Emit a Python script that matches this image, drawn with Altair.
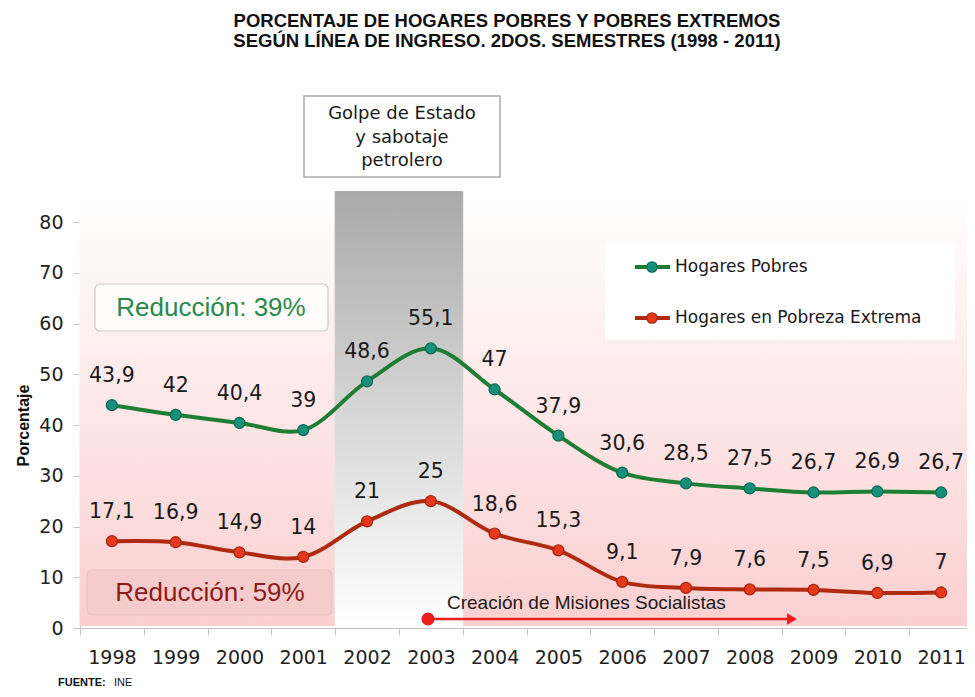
import altair as alt
import pandas as pd

# ---------------- data ----------------
years = list(range(1998, 2012))
pobres = [43.9, 42, 40.4, 39, 48.6, 55.1, 47, 37.9, 30.6, 28.5, 27.5, 26.7, 26.9, 26.7]
extrema = [17.1, 16.9, 14.9, 14, 21, 25, 18.6, 15.3, 9.1, 7.9, 7.6, 7.5, 6.9, 7]
series_names = ["Hogares Pobres", "Hogares en Pobreza Extrema"]
crisis_years = [2002, 2003]
y_ticks = [0, 10, 20, 30, 40, 50, 60, 70, 80]

title_lines = ["PORCENTAJE DE HOGARES POBRES Y POBRES EXTREMOS",
               "SEGÚN LÍNEA DE INGRESO. 2DOS. SEMESTRES (1998 - 2011)"]
golpe_text = ["Golpe de Estado", "y sabotaje", "petrolero"]
red_pobres = "Reducción: 39%"
red_extrema = "Reducción: 59%"
misiones = "Creación de Misiones Socialistas"

rows = []
for name, vals in zip(series_names, [pobres, extrema]):
    for yr, v in zip(years, vals):
        rows.append({"year": yr, "value": v, "series": name,
                     "label": f"{v:g}".replace(".", ",")})
df = pd.DataFrame(rows)
bg_pink = pd.DataFrame({"year": [y for y in years if y not in crisis_years]})
bg_grey = pd.DataFrame({"year": crisis_years})
one = pd.DataFrame({"k": [0]})

# ---------------- styles ----------------
line_colors = ["#1e7f34", "#b02a10"]
pt_fill = ["#16907a", "#e8381c"]
pt_stroke = ["#0e6b58", "#a8260f"]
TICK = "#222222"
AX = "#c4c4c4"

xscale = alt.Scale(domain=years, paddingInner=0, paddingOuter=0)
yscale = alt.Scale(domain=[0, 80])
xaxis = alt.Axis(title=None, labelAngle=0, tickBand="extent", domainColor=AX,
                 tickColor=AX, tickSize=7, labelFont="DejaVu Sans", labelFontSize=19,
                 labelColor=TICK, labelPadding=13, grid=False)
yaxis = alt.Axis(title="Porcentaje", values=y_ticks, domainColor=AX, tickColor=AX,
                 tickSize=7, labelFont="DejaVu Sans", labelFontSize=19, labelColor=TICK,
                 labelPadding=10, grid=False, titleFont="Liberation Sans",
                 titleFontSize=16, titleFontWeight="bold", titleColor="#111",
                 titlePadding=7)

X = alt.X("year:O", scale=xscale, axis=xaxis)

pink_grad = {"gradient": "linear", "x1": 0, "y1": 0, "x2": 0, "y2": 1,
             "stops": [{"offset": 0, "color": "#ffffff"},
                       {"offset": 1, "color": "#fbcfd0"}]}
grey_grad = {"gradient": "linear", "x1": 0, "y1": 0, "x2": 0, "y2": 1,
             "stops": [{"offset": 0, "color": "#a9a9a9"},
                       {"offset": 0.5, "color": "#d6d6d6"},
                       {"offset": 1, "color": "#ffffff"}]}

bg1 = alt.Chart(bg_pink).mark_rect(fill=pink_grad, stroke=pink_grad, strokeWidth=1).encode(
    x=X, y=alt.Y(datum=86, scale=yscale, axis=yaxis), y2=alt.Y2(datum=0.5))
bg2 = alt.Chart(bg_grey).mark_rect(fill=grey_grad, stroke=grey_grad, strokeWidth=1).encode(
    x=X, y=alt.Y(datum=86, scale=yscale, axis=yaxis), y2=alt.Y2(datum=0.0))

Y = alt.Y("value:Q", scale=yscale, axis=yaxis)
cscale = alt.Scale(domain=series_names, range=line_colors)

lines = alt.Chart(df).mark_line(interpolate="catmull-rom", strokeWidth=4).encode(
    x=X, y=Y, color=alt.Color("series:N", scale=cscale, legend=None))
points = alt.Chart(df).mark_circle(size=120, opacity=1, strokeWidth=1.3).encode(
    x=X, y=Y,
    fill=alt.Fill("series:N", scale=alt.Scale(domain=series_names, range=pt_fill), legend=None),
    stroke=alt.Stroke("series:N", scale=alt.Scale(domain=series_names, range=pt_stroke), legend=None))
labels = alt.Chart(df).mark_text(font="DejaVu Sans", fontSize=20.5, color="#1a1a1a",
                                 dy=-29, baseline="middle").encode(
    x=X, y=Y, text="label:N")

# ---------------- annotations (pixel layout) ----------------
def box(x1, y1, x2, y2, fill, stroke, sw=1.2, cr=0):
    return alt.Chart(one).mark_rect(fill=fill, stroke=stroke, strokeWidth=sw,
                                    cornerRadius=cr).encode(
        x=alt.value(x1), x2=alt.value(x2), y=alt.value(y1), y2=alt.value(y2))

def txt(s, x, y, size, color="#222", font="DejaVu Sans", weight="normal",
        align="center", lh=None):
    kw = dict(text=s, font=font, fontSize=size, color=color, fontWeight=weight,
              align=align, baseline="middle")
    if lh:
        kw["lineHeight"] = lh
    return alt.Chart(one).mark_text(**kw).encode(x=alt.value(x), y=alt.value(y))

title1 = txt(title_lines[0], 427, -201, 18.5, "#111", "Liberation Sans", "bold")
title2 = txt(title_lines[1], 427, -181, 18.5, "#111", "Liberation Sans", "bold")

golpe_box = box(224, -126, 420, -45, "#ffffff", "#aaaaaa", 1.5)
golpe_t = txt(golpe_text, 322, -108, 18, "#1a1a1a", lh=23.5)

r39_box = box(15, 62, 248, 109, "rgba(255,255,255,0.75)", "#cccccc", 1.2, 5)
r39_t = txt(red_pobres, 131, 86, 26, "#2a8a4c", "Liberation Sans")
r59_box = box(7, 348, 252, 393, "#f6cbcc", "#e8c4c4", 1.2, 5)
r59_t = txt(red_extrema, 130, 371, 26, "#8a1c1c", "Liberation Sans")

leg_box = box(525, 21, 875, 118, "#ffffff", "#ffffff", 0)
leg_items = []
for i, (name, lc, pf, ps) in enumerate(zip(series_names, line_colors, pt_fill, pt_stroke)):
    yy = 45 + i * 51
    leg_items.append(alt.Chart(one).mark_rule(color=lc, strokeWidth=4).encode(
        x=alt.value(555), x2=alt.value(590), y=alt.value(yy)))
    leg_items.append(alt.Chart(one).mark_circle(size=110, opacity=1, fill=pf, stroke=ps,
                                                strokeWidth=1.2).encode(
        x=alt.value(572), y=alt.value(yy)))
    leg_items.append(txt(name, 595, yy, 17, "#1a1a1a", align="left"))

mis_line = alt.Chart(one).mark_rule(color="#e8201c", strokeWidth=2.5).encode(
    x=alt.value(348), x2=alt.value(710), y=alt.value(397))
mis_dot = alt.Chart(one).mark_circle(size=170, opacity=1, color="#ee1c1c").encode(
    x=alt.value(348), y=alt.value(397))
mis_arrow = alt.Chart(one).mark_point(shape="triangle-right", filled=True, size=130,
                                      color="#ee1c1c", opacity=1).encode(
    x=alt.value(712), y=alt.value(397))
mis_t = txt(misiones, 367, 381, 19, "#1a1a1a", "Liberation Sans", align="left")

fuente1 = txt("FUENTE:", -22, 461, 11, "#111", "Liberation Sans", "bold", align="left")
fuente2 = txt("INE", 34, 461, 11, "#111", "Liberation Sans", align="left")

chart = alt.layer(
    bg1, bg2, lines, points, labels,
    title1, title2, golpe_box, golpe_t, r39_box, r39_t, r59_box, r59_t,
    leg_box, *leg_items, mis_line, mis_dot, mis_arrow, mis_t, fuente1, fuente2
).properties(
    width=893, height=406,
    autosize=alt.AutoSizeParams(type="none"),
    padding={"left": 72, "top": 214, "right": -6, "bottom": 61},
    background="white",
).configure_view(strokeWidth=0)

chart.save("out.html", embed_options={"renderer": "svg", "actions": False})
